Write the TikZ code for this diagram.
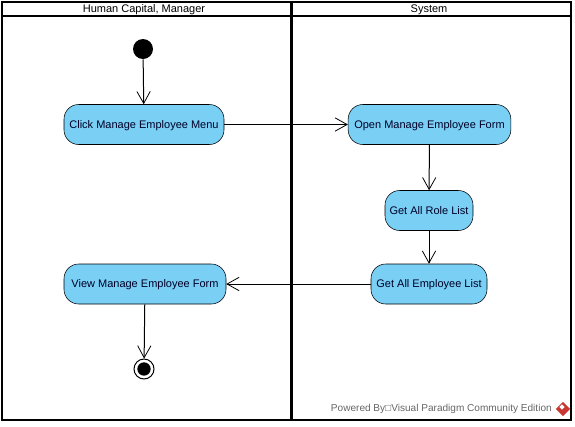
\documentclass[tikz,border=0pt]{standalone}
\usepackage{fontspec}
\setmainfont{Liberation Sans}
\usetikzlibrary{arrows.meta,shapes.geometric}
\definecolor{actblue}{RGB}{122,207,245}
\definecolor{logored}{RGB}{200,55,50}
\tikzset{
  action/.style={draw,fill=actblue,rounded corners=11pt,minimum height=30pt,inner sep=0pt,text height=6pt,text depth=0.5pt,font=\fontsize{8.25}{10}\selectfont,text=black!85!blue},
  lane/.style={draw,line width=1.5pt,anchor=north west,inner sep=0pt},
  lanehead/.style={font=\fontsize{8.25}{10}\selectfont},
  flow/.style={line width=0.75pt,-{Straight Barb[length=9pt,width=10pt,line width=0.6pt]}},
}
\begin{document}
\begin{tikzpicture}[x=0.75pt,y=-0.75pt]
\useasboundingbox (0,0) rectangle (575,426);

\node[lane,minimum width=216.5pt,minimum height=313.5pt] (laneA) at (1,1) {};
\node[lane,minimum width=209.5pt,minimum height=313.5pt] (laneB) at (290.5,1) {};
\draw[line width=1.5pt] (laneA.west |- 0,15.5) -- (laneB.east |- 0,15.5);
\node[lanehead] (headA) at (144,9.5) {Human Capital, Manager};
\node[lanehead] (headB) at (429,9.5) {System};

\node[circle,fill=black,minimum size=15pt,inner sep=0pt] (start) at (143,49) {};
\node[action,minimum width=120pt] (click) at (144,124.5) {Click Manage Employee Menu};
\node[action,minimum width=122pt] (open) at (429.5,124.5) {Open Manage Employee Form};
\node[action,minimum width=66pt] (role) at (429,210.5) {Get All Role List};
\node[action,minimum width=87pt] (emp) at (429,284) {Get All Employee List};
\node[action,minimum width=121.5pt] (view) at (145,284) {View Manage Employee Form};
\node[circle,draw,line width=0.75pt,minimum size=15pt,inner sep=0pt] (stop) at (144,369) {};
\node[circle,fill=black,minimum size=10pt,inner sep=0pt] (stopdot) at (144,369) {};

\draw[flow] (start) -- (click);
\draw[flow] (click) -- (open);
\draw[flow] (open) -- (role);
\draw[flow] (role) -- (emp);
\draw[flow] (emp) -- (view);
\draw[flow] (view) -- (stop);

\node[text=black!60,anchor=east,inner sep=0pt,font=\fontsize{7.55}{9}\selectfont] (power) at (552,409) {Powered By□Visual Paradigm Community Edition};
\node[diamond,fill=logored,minimum size=11pt,inner sep=0pt] (logo) at (563,409) {};
\node[diamond,fill=white,minimum size=4pt,inner sep=0pt] (logomark) at (562,407) {};
\end{tikzpicture}
\end{document}
